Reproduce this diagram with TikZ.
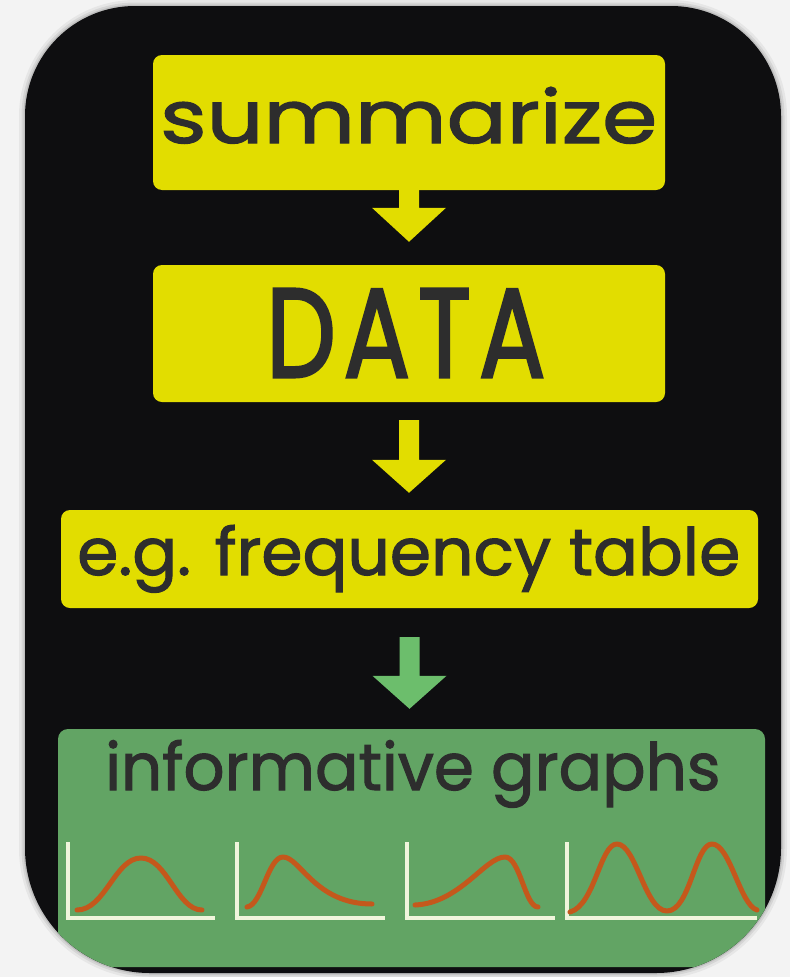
\documentclass[tikz,border=0pt]{standalone}
\usepackage{fontspec}
\usetikzlibrary{calc}
\newfontfamily\handfont{Poppins}[FakeBold=1.6]
\newfontfamily\handfontwide{Poppins}[FakeBold=2.4,LetterSpace=8]
\definecolor{pagebg}{RGB}{243,243,243}
\definecolor{boardc}{RGB}{14,14,16}
\definecolor{yellowc}{RGB}{226,221,0}
\definecolor{greenc}{RGB}{98,164,100}
\definecolor{garrow}{RGB}{108,190,108}
\definecolor{inkc}{RGB}{45,45,45}
\definecolor{axisc}{RGB}{240,245,220}
\definecolor{curvec}{RGB}{196,88,28}
\newcommand\boardpath{(25,116) arc[start angle=180,end angle=270,radius=110] -- (671,6) arc[start angle=270,end angle=360,radius=110] -- (781,848) arc[start angle=0,end angle=90,radius=125] -- (150,973) arc[start angle=90,end angle=180,radius=125] -- cycle}
\newcommand\blockarrow[6]{%
  \fill[#6] let \p1=(#1.south), \p2=(#2.north) in
    (\x1-10pt,\y1-#3pt) -- (\x1+10pt,\y1-#3pt) -- (\x1+10pt,\y2+#5pt+#4pt) -- (\x1+37pt,\y2+#5pt+#4pt)
    -- (\x1,\y2+#5pt) -- (\x1-37pt,\y2+#5pt+#4pt) -- (\x1-10pt,\y2+#5pt+#4pt) -- cycle;}
\begin{document}
\begin{tikzpicture}[x=1pt,y=-1pt,
  ybox/.style={fill=yellowc, rounded corners=9pt, inner sep=0pt, draw=none},
  gbox/.style={fill=greenc, rounded corners=10pt, inner sep=0pt, draw=none},
  lbl/.style={inner sep=0pt, anchor=base west, text=inkc, font=\handfont},
  axisline/.style={draw=axisc, line width=4pt},
  curveline/.style={draw=curvec, line width=5pt, line cap=round, line join=round}]
\useasboundingbox (0,0) rectangle (790,977);
\fill[pagebg] (0,0) rectangle (790,977);
% soft shadow
\draw[black, opacity=0.05, line width=12pt] \boardpath;
\draw[black, opacity=0.07, line width=7pt] \boardpath;
\draw[black, opacity=0.10, line width=3pt] \boardpath;
\fill[boardc] \boardpath;
% boxes
\node[ybox, minimum width=512pt, minimum height=135pt] (sum) at (409,122.5) {};
\node[ybox, minimum width=512pt, minimum height=137pt] (data) at (409,333.5) {};
\node[ybox, minimum width=697pt, minimum height=98pt] (freq) at (409.5,559) {};
\begin{scope}
  \clip \boardpath;
  \node[gbox, minimum width=707pt, minimum height=238pt] (graphs) at (411.5,848) {};
\end{scope}
% texts
\node[lbl] (tsum) at (160,143) {\resizebox{497pt}{56pt}{summarize}};
\node[lbl, font=\handfontwide] (tdata) at (266,377) {\resizebox{279pt}{88pt}{DATA}};
\node[lbl] (tfreq) at (77,575) {\resizebox{663pt}{50pt}{e.g. frequency table}};
\node[lbl] (tgraphs) at (105,790) {\resizebox{615pt}{50pt}{informative graphs}};
% arrows
\blockarrow{sum}{data}{0}{34}{23}{yellowc}
\blockarrow{data}{freq}{18}{33}{17}{yellowc}
\blockarrow{freq}{graphs}{29}{33}{20}{garrow}
% mini graphs
\begin{scope}
  \clip \boardpath;
  \draw[axisline] (68,842) -- (68,918) -- (215,918);
  \draw[axisline] (237,842) -- (237,918) -- (385,918);
  \draw[axisline] (407,842) -- (407,918) -- (555,918);
  \draw[axisline] (567,842) -- (567,918) -- (757,918);
  \draw[curveline] (77,910) .. controls (105,910) and (115,858) .. (141,858) .. controls (167,858) and (177,910) .. (202,910);
  \draw[curveline] (247,907) .. controls (262,905) and (268,857) .. (283,857) .. controls (300,857) and (315,904) .. (372,904);
  \draw[curveline] (415,905) .. controls (460,903) and (485,857) .. (505,857) .. controls (520,857) and (525,907) .. (538,907);
  \draw[curveline] (570,912) .. controls (595,905) and (600,844) .. (617,844) .. controls (636,844) and (645,911) .. (667,911) .. controls (690,911) and (695,844) .. (712,844) .. controls (730,844) and (740,905) .. (757,910);
\end{scope}
\end{tikzpicture}
\end{document}
